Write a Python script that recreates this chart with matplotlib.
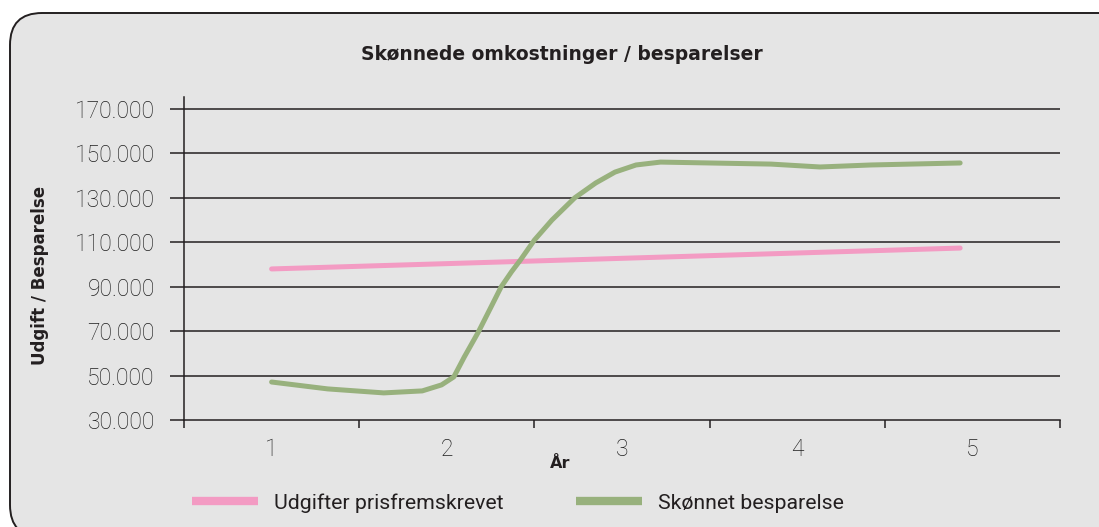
import matplotlib
matplotlib.use("Agg")
import matplotlib.pyplot as plt
from matplotlib.patches import FancyBboxPatch
from matplotlib.transforms import IdentityTransform

# data
aar = [1, 2, 3, 4, 5]
y_ticks = [30000, 50000, 70000, 90000, 110000, 130000, 150000, 170000]

udgifter_x = [1.0, 4.93]
udgifter_y = [98000, 107400]

besparelse_x = [1.0, 1.32, 1.64, 1.86, 1.97, 2.04, 2.10, 2.18, 2.25, 2.31, 2.37, 2.42, 2.50,
                2.60, 2.73, 2.85, 2.96, 3.08, 3.22, 3.85, 4.13, 4.42, 4.93]
besparelse_y = [47100, 44000, 42200, 43100, 45800, 49400, 58400, 69600, 80500, 89900, 96800, 102000, 111000,
                120000, 130000, 136700, 141600, 144800, 146100, 145200, 143900, 144800, 145700]

W, H = 1099, 527
fig = plt.figure(figsize=(W / 100, H / 100), dpi=100, facecolor="white")

# rounded grey panel behind everything (pixel coordinates)
panel = FancyBboxPatch((10, -10), 1150, 524,
                       boxstyle="round,pad=0,rounding_size=32",
                       transform=IdentityTransform(), facecolor="#e5e5e5",
                       edgecolor="#231f20", linewidth=1.4, zorder=-5)
fig.patches.append(panel)

ax = fig.add_axes([184 / W, 107 / H, 876 / W, 323 / H])
ax.set_facecolor("none")
ax.set_zorder(1)

grid_col = "#231f20"
for v in y_ticks[1:]:
    ax.axhline(v, color=grid_col, linewidth=1.1, zorder=1)

ax.plot(udgifter_x, udgifter_y, color="#f39bc3", linewidth=3.6,
        solid_capstyle="round", label="Udgifter prisfremskrevet", zorder=3)
ax.plot(besparelse_x, besparelse_y, color="#98b17d", linewidth=3.6,
        solid_capstyle="round", solid_joinstyle="round",
        label="Skønnet besparelse", zorder=3)

ax.set_xlim(0.5, 5.5)
ax.set_ylim(30000, 175400)

for s in ["top", "right"]:
    ax.spines[s].set_visible(False)
ax.spines["left"].set_color(grid_col)
ax.spines["bottom"].set_color(grid_col)
ax.spines["left"].set_linewidth(1.1)
ax.spines["bottom"].set_linewidth(1.1)

tick_font = dict(family="Roboto", weight="light", size=16.5, color="#1e1e1e")

ax.set_yticks(y_ticks)
ax.set_yticklabels([f"{v:,}".replace(",", ".") for v in y_ticks], fontdict=tick_font)
ax.tick_params(axis="y", length=10, width=1.1, color=grid_col, pad=11)

ax.set_xticks(aar)
ax.set_xticklabels([str(a) for a in aar], fontdict=tick_font)
ax.set_xticks([0.5, 1.5, 2.5, 3.5, 4.5, 5.5], minor=True)
ax.tick_params(axis="x", which="major", length=0, pad=13)
ax.tick_params(axis="x", which="minor", length=6, width=1.1, color=grid_col)

fig.text(562 / W, 1 - 55 / H, "Skønnede omkostninger / besparelser",
         ha="center", va="center", fontsize=13.5, fontweight="bold", color="#231f20")
fig.text(560 / W, 1 - 463 / H, "År", ha="center", va="center",
         fontsize=11.5, fontweight="bold", color="#231f20")
fig.text(40 / W, 1 - 275 / H, "Udgift / Besparelse", ha="center", va="center",
         rotation=90, fontsize=12, fontweight="bold", color="#231f20")

leg = fig.legend(loc="center", bbox_to_anchor=(518 / W, 1 - 503 / H), ncol=2,
                 frameon=False, handlelength=3.1, handletextpad=0.77,
                 columnspacing=3.4, prop=dict(family="Roboto", size=15.3))
for t in leg.get_texts():
    t.set_color("#231f20")
for h in leg.legend_handles:
    h.set_linewidth(6)
    h.set_solid_capstyle("butt")

fig.savefig("out.png", dpi=100, facecolor="white")
